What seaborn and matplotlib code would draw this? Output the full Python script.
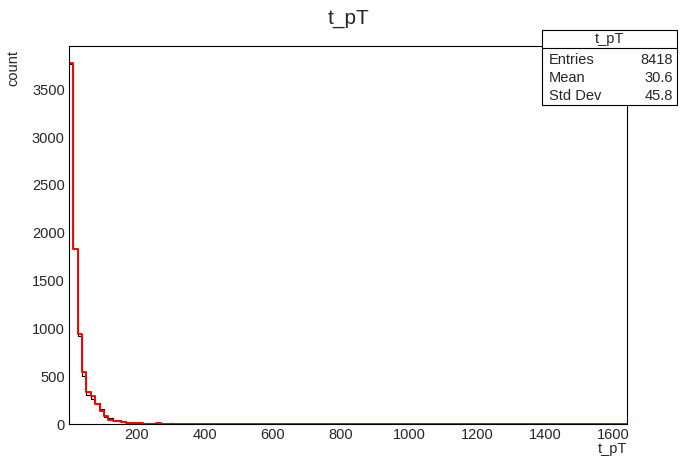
import numpy as np
import pandas as pd
import seaborn as sns
import matplotlib.pyplot as plt
from matplotlib.patches import Rectangle
from matplotlib.ticker import MultipleLocator

sns.set_style("white")
plt.rcParams["font.family"] = ["Liberation Sans", "DejaVu Sans"]

# binning: 128 bins of 12.8 starting at 1
x_min = 1.0
bin_width = 12.8
n_bins = 128

# counts (first bins), the rest of the range is ~empty
black_head = [3765, 1830, 925, 500, 300, 262, 215, 160, 78, 60, 42, 42, 30, 15, 12,
              9, 7, 6, 14, 5, 3, 2, 3, 9, 2, 1, 1, 1, 0, 1]
red_head = [3780, 1830, 937, 540, 338, 296, 209, 140, 84, 45, 32, 28, 25, 12, 10,
            8, 6, 5, 4, 4, 6, 3, 2, 2, 5, 1, 1, 0, 1, 2]
tail_bins = [33, 38, 45, 57, 70, 88]
black_tail = [1, 1, 1, 1, 0, 1]
red_tail = [2, 1, 1, 1, 1, 1]

stats_title = "t_pT"
stats_names = ["Entries", "Mean", "Std Dev"]
stats_values = ["8418", "30.6", "45.8"]

edges = x_min + bin_width * np.arange(n_bins + 1)
centers = edges[:-1] + bin_width / 2


def full_counts(head, tail):
    c = np.zeros(n_bins)
    c[:len(head)] = head
    c[tail_bins] = tail
    return c


df = pd.DataFrame({
    "t_pT": np.concatenate([centers, centers]),
    "count": np.concatenate([full_counts(black_head, black_tail),
                             full_counts(red_head, red_tail)]),
    "hist": ["black"] * n_bins + ["red"] * n_bins,
})

fig = plt.figure(figsize=(6.96, 4.72), dpi=100)
ax = fig.add_axes([69 / 696, 48 / 472, 558 / 696, 378 / 472])

sns.histplot(data=df[df["hist"] == "black"], x="t_pT", weights="count", bins=edges.tolist(),
             element="step", fill=False, color="black", linewidth=0.8, ax=ax)
sns.histplot(data=df[df["hist"] == "red"], x="t_pT", weights="count", bins=edges.tolist(),
             element="step", fill=False, color="red", linewidth=1.4, ax=ax)

ax.set_xlim(edges[0], edges[-1])
ax.set_ylim(0, 1.05 * max(black_head))
ax.set_xlabel("")
ax.set_ylabel("")

ax.xaxis.set_major_locator(MultipleLocator(200))
ax.xaxis.set_minor_locator(MultipleLocator(50))
ax.yaxis.set_major_locator(MultipleLocator(500))
ax.yaxis.set_minor_locator(MultipleLocator(100))
ax.tick_params(axis="both", which="both", direction="in", labelsize=10.5,
               top=False, right=False, color="black", width=0.8)
ax.tick_params(axis="y", which="major", length=12, pad=3)
ax.tick_params(axis="y", which="minor", length=6)
ax.tick_params(axis="x", which="major", length=7, pad=3)
ax.tick_params(axis="x", which="minor", length=3.5)
for s in ax.spines.values():
    s.set_color("black")
    s.set_linewidth(0.8)

fig.text(0.5, 1 - 19 / 472, "t_pT", ha="center", va="center", fontsize=15)
fig.text(13 / 696, 1 - 50 / 472, "count", rotation=90, ha="center", va="top", fontsize=10.5)
fig.text(627 / 696, 1 - 442 / 472, "t_pT", ha="right", va="top", fontsize=10.5)

# stats box
bx0, bx1 = 542 / 696, 677 / 696
by0, by1 = 1 - 105 / 472, 1 - 30 / 472
fig.patches.append(Rectangle((bx0, by0), bx1 - bx0, by1 - by0, transform=fig.transFigure,
                             facecolor="white", edgecolor="black", linewidth=0.8, zorder=5))
sep = 1 - 48 / 472
fig.add_artist(plt.Line2D([bx0, bx1], [sep, sep], transform=fig.transFigure,
                          color="black", linewidth=0.8, zorder=6))
fig.text((bx0 + bx1) / 2, 1 - 39 / 472, stats_title, ha="center", va="center",
         fontsize=10.5, zorder=7)
for i, (name, val) in enumerate(zip(stats_names, stats_values)):
    yy = 1 - (60 + 18 * i) / 472
    fig.text(549 / 696, yy, name, ha="left", va="center", fontsize=10.5, zorder=7)
    fig.text(673 / 696, yy, val, ha="right", va="center", fontsize=10.5, zorder=7)

fig.savefig("out.png", dpi=100)
